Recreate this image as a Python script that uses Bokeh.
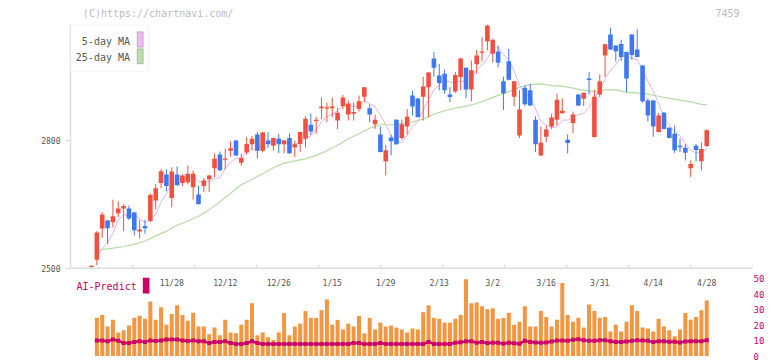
import numpy as np
from bokeh.plotting import figure
from bokeh.layouts import column
from bokeh.models import (Range1d, LinearAxis, FixedTicker, Span, BoxAnnotation,
                          Label, ColumnDataSource)
from bokeh.core.properties import value
from bokeh.embed import file_html
from bokeh.resources import INLINE

# ---------------- data ----------------
opens = [2503, 2520, 2593, 2612, 2608, 2629, 2640, 2640, 2631, 2586,
         2599, 2611, 2659, 2700, 2720, 2665, 2720, 2700, 2702, 2690,
         2673, 2693, 2709, 2735, 2767, 2755, 2776, 2800, 2748, 2772,
         2791, 2814, 2776, 2800, 2788, 2804, 2791, 2806, 2784, 2792,
         2804, 2837, 2846, 2876, 2875, 2876, 2847, 2881, 2861, 2863,
         2874, 2903, 2876, 2838, 2814, 2751, 2807, 2849, 2806, 2833,
         2906, 2899, 2903, 2925, 2993, 2953, 2957, 2908, 2915, 2949,
         2971, 2920, 2979, 3006, 3033, 3004, 3009, 2939, 2986, 2903,
         2812, 2924, 2918, 2849, 2765, 2809, 2833, 2849, 2864, 2802,
         2841, 2908, 2898, 2946, 2808, 2908, 3000, 3049, 3023, 3027,
         3008, 3049, 3014, 2976, 2894, 2894, 2820, 2865, 2830, 2816,
         2788, 2783, 2735, 2788, 2751, 2787]
highs = [2506, 2587, 2632, 2614, 2661, 2657, 2651, 2647, 2632, 2613,
         2614, 2676, 2698, 2733, 2733, 2737, 2739, 2720, 2741, 2729,
         2694, 2712, 2719, 2769, 2774, 2780, 2798, 2801, 2769, 2808,
         2811, 2820, 2820, 2820, 2807, 2815, 2801, 2817, 2800, 2821,
         2857, 2863, 2856, 2901, 2889, 2901, 2877, 2907, 2894, 2889,
         2906, 2926, 2885, 2861, 2833, 2790, 2813, 2850, 2849, 2874,
         2917, 2900, 2950, 2961, 3008, 2980, 2967, 2925, 2961, 2994,
         2972, 2988, 3013, 3043, 3073, 3038, 3023, 2950, 3015, 2940,
         2918, 2929, 2933, 2857, 2833, 2835, 2863, 2910, 2899, 2814,
         2868, 2909, 2913, 2961, 2920, 2955, 3027, 3065, 3024, 3037,
         3009, 3050, 3061, 2977, 2899, 2895, 2865, 2867, 2831, 2835,
         2804, 2792, 2753, 2792, 2796, 2826]
lows = [2501, 2507, 2571, 2557, 2596, 2620, 2587, 2613, 2577, 2570,
        2581, 2608, 2638, 2688, 2681, 2643, 2694, 2693, 2697, 2661,
        2649, 2679, 2679, 2714, 2728, 2733, 2762, 2764, 2741, 2767,
        2778, 2758, 2772, 2783, 2776, 2770, 2770, 2768, 2761, 2773,
        2784, 2813, 2816, 2851, 2843, 2855, 2827, 2874, 2847, 2847,
        2868, 2890, 2843, 2827, 2772, 2718, 2765, 2790, 2802, 2814,
        2859, 2854, 2847, 2855, 2950, 2918, 2910, 2890, 2912, 2918,
        2900, 2892, 2957, 2986, 3012, 2983, 2972, 2872, 2941, 2881,
        2806, 2881, 2881, 2773, 2764, 2796, 2827, 2835, 2863, 2770,
        2817, 2881, 2881, 2908, 2807, 2902, 2949, 3013, 2986, 2987,
        2914, 2990, 2995, 2889, 2845, 2809, 2819, 2826, 2805, 2771,
        2773, 2753, 2714, 2751, 2730, 2785]
closes = [2506, 2584, 2626, 2594, 2622, 2640, 2646, 2617, 2589, 2591,
          2594, 2672, 2688, 2728, 2693, 2727, 2695, 2718, 2722, 2722,
          2651, 2706, 2718, 2757, 2730, 2758, 2782, 2765, 2759, 2792,
          2804, 2776, 2819, 2791, 2806, 2791, 2800, 2770, 2791, 2820,
          2851, 2821, 2849, 2880, 2878, 2880, 2865, 2901, 2887, 2867,
          2892, 2925, 2861, 2849, 2773, 2777, 2798, 2791, 2838, 2856,
          2880, 2855, 2927, 2960, 2971, 2935, 2918, 2902, 2954, 2993,
          2920, 2965, 3000, 3009, 3070, 3037, 2983, 2911, 2943, 2939,
          2873, 2885, 2882, 2791, 2795, 2826, 2854, 2896, 2870, 2794,
          2861, 2882, 2912, 2942, 2903, 2939, 3026, 3014, 3010, 2996,
          2946, 3001, 2996, 2892, 2859, 2833, 2859, 2827, 2806, 2777,
          2784, 2771, 2745, 2778, 2780, 2824]

# 5-day moving average, trading days 1..115
ma5 = [2527, 2545, 2560, 2582, 2613, 2626, 2624, 2623, 2617, 2607,
       2613, 2627, 2655, 2675, 2702, 2706, 2712, 2711, 2717, 2702,
       2704, 2704, 2711, 2712, 2734, 2749, 2758, 2759, 2771, 2780,
       2779, 2790, 2796, 2799, 2797, 2801, 2792, 2792, 2794, 2806,
       2811, 2826, 2844, 2856, 2862, 2870, 2881, 2882, 2880, 2882,
       2894, 2886, 2879, 2860, 2837, 2812, 2798, 2795, 2812, 2833,
       2844, 2871, 2896, 2919, 2930, 2942, 2937, 2936, 2940, 2937,
       2947, 2966, 2977, 2993, 3016, 3020, 3002, 2989, 2963, 2930,
       2910, 2904, 2874, 2845, 2836, 2830, 2832, 2848, 2848, 2855,
       2861, 2864, 2878, 2900, 2916, 2945, 2965, 2978, 2997, 2998,
       2993, 2990, 2966, 2939, 2916, 2888, 2854, 2837, 2820, 2811,
       2793, 2777, 2771, 2772, 2780]

# 25-day moving average, read at these trading days
ma25_day = [1, 4, 6, 8, 10, 12, 14, 16, 18, 20, 22, 24, 26, 28, 30, 32, 34,
            36, 38, 40, 42, 44, 46, 48, 50, 52, 54, 56, 58, 60, 62, 64, 66,
            68, 70, 72, 74, 76, 78, 80, 82, 84, 86, 88, 90, 92, 94, 96, 98,
            100, 102, 104, 106, 108, 110, 112, 114, 115]
ma25 = [2542, 2547, 2551, 2556, 2564, 2576, 2587, 2601, 2611, 2622, 2637,
        2656, 2676, 2696, 2709, 2722, 2736, 2747, 2752, 2757, 2765, 2776,
        2789, 2804, 2816, 2829, 2837, 2837, 2840, 2844, 2850, 2862, 2870,
        2876, 2881, 2887, 2896, 2906, 2915, 2925, 2932, 2933, 2929, 2928,
        2923, 2918, 2915, 2919, 2919, 2913, 2912, 2909, 2904, 2899, 2895,
        2891, 2885, 2884]

# lower panel, trading days 1..115
volume = [24.7, 26.6, 19.1, 23.4, 15.3, 16.6, 19.7, 24.7, 26.0, 24.1,
          35.3, 23.4, 31.6, 20.3, 27.2, 32.8, 26.6, 22.8, 28.0, 19.1,
          19.1, 14.1, 18.4, 13.4, 23.4, 15.3, 14.7, 20.3, 23.4, 34.1,
          13.4, 15.3, 12.2, 10.3, 15.3, 27.8, 13.4, 19.1, 21.0, 29.1,
          24.7, 24.7, 29.7, 36.6, 20.3, 23.4, 17.2, 21.0, 19.1, 25.9,
          14.7, 24.7, 17.2, 21.6, 19.1, 19.7, 18.4, 17.2, 15.3, 17.8,
          17.2, 28.4, 32.8, 24.7, 24.1, 21.6, 21.6, 24.1, 26.6, 49.7,
          34.1, 34.7, 32.2, 30.3, 30.9, 24.1, 24.7, 28.0, 20.3, 22.2,
          32.2, 19.1, 19.1, 29.1, 25.3, 19.1, 23.4, 47.2, 26.6, 22.2,
          24.7, 18.4, 33.4, 29.1, 24.7, 25.3, 15.9, 20.3, 15.9, 22.2,
          32.8, 29.1, 18.4, 17.8, 15.9, 24.1, 19.1, 16.6, 12.8, 17.2,
          27.8, 23.4, 25.3, 29.7, 35.9]
ai_predict = [10.1, 10.1, 9.5, 10.7, 9.9, 8.4, 8.4, 9.1, 9.5, 9.1,
              10.1, 9.7, 10.1, 10.7, 10.7, 10.7, 10.1, 9.7, 10.1, 9.5,
              9.5, 8.4, 9.1, 9.1, 9.5, 8.4, 7.8, 7.8, 8.4, 9.5,
              8.4, 7.8, 7.8, 7.8, 7.8, 7.8, 7.8, 7.8, 7.8, 7.8,
              7.8, 7.8, 7.8, 7.8, 7.8, 7.8, 7.8, 7.8, 8.4, 8.4,
              7.8, 7.8, 7.8, 8.4, 7.8, 7.8, 7.8, 7.8, 7.8, 7.8,
              7.8, 7.8, 9.1, 7.8, 7.8, 7.8, 7.8, 8.6, 8.9, 9.5,
              9.5, 8.6, 9.0, 8.4, 8.6, 8.6, 8.0, 8.6, 8.2, 8.0,
              9.8, 9.0, 8.8, 8.6, 8.8, 9.4, 10.0, 10.0, 9.8, 10.6,
              10.8, 10.2, 9.8, 9.8, 10.2, 10.2, 9.6, 9.0, 9.0, 9.4,
              9.8, 10.2, 10.0, 9.8, 9.0, 9.6, 9.6, 9.2, 9.2, 8.8,
              9.4, 9.6, 9.6, 9.6, 10.2]

date_days = [15, 25, 35, 45, 55, 65, 75, 85, 95, 105, 115]
date_labels = ["11/28", "12/12", "12/26", "1/15", "1/29", "2/13", "3/2",
               "3/16", "3/31", "4/14", "4/28"]
price_ticks = [2500, 2800]
predict_ticks = [0, 10, 20, 30, 40, 50]

# ---------------- layout constants (page pixels) ----------------
PAGE_W = 772
HEAD_H = 20
MAIN_H = 341
FRAME_L, FRAME_R = 70, 752
FRAME_T = 24                     # page y of frame top
FRAME_B = HEAD_H + MAIN_H        # page y of frame bottom
FW = FRAME_R - FRAME_L
FH = FRAME_B - FRAME_T
PX_DAY = 5.35
FIRST_X = 91.0                   # page x of trading day 0
PX_PRICE = 0.4256
BASE_Y = 267.7                   # page y of price 2500
ZERO_Y = 355.5                   # page y of predict 0
TOP50_Y = 278.3                  # page y of predict 50
VOL_PX = (ZERO_Y - TOP50_Y) / 50.0

x_start = (FRAME_L - FIRST_X) / PX_DAY
x_end = x_start + FW / PX_DAY
y_end = 2500 + (BASE_Y - FRAME_T) / PX_PRICE
y_start = y_end - FH / PX_PRICE
v_start = -(FRAME_B - ZERO_Y) / VOL_PX
v_end = v_start + FH / VOL_PX

def fx(px):
    return x_start + (px - FRAME_L) / PX_DAY

def fp(py):
    return y_end - (py - FRAME_T) / PX_PRICE

def fv(py):
    return v_start + (FRAME_B - py) / VOL_PX

MONO = "DejaVu Sans Mono"
RED = "#f0503f"
BLUE = "#3f78ee"

# ---------------- header strip ----------------
head = figure(width=PAGE_W, height=HEAD_H, output_backend="svg",
              toolbar_location=None, title=None,
              x_range=Range1d(0, PAGE_W), y_range=Range1d(HEAD_H, 0),
              x_axis_type=None, y_axis_type=None,
              min_border_left=0, min_border_right=0, min_border_top=0,
              min_border_bottom=0)
head.outline_line_color = None
head.background_fill_color = "white"
head.border_fill_color = "white"
head.text(x=[14], y=[12.5], text=["(C)https://chartnavi.com/"],
          text_align="left", text_baseline="middle", text_font=value(MONO),
          text_font_size=value("10px"), text_color="#bbbbbb")
head.text(x=[757.3], y=[12.5], text=["7459"], text_align="right",
          text_baseline="middle", text_font=value(MONO),
          text_font_size=value("10px"), text_color="#bbbbbb")

# ---------------- main chart ----------------
p = figure(width=PAGE_W, height=MAIN_H, output_backend="svg",
           toolbar_location=None, title=None,
           x_range=Range1d(x_start, x_end), y_range=Range1d(y_start, y_end),
           x_axis_type=None, y_axis_type=None,
           min_border_left=FRAME_L, min_border_right=PAGE_W - FRAME_R,
           min_border_top=FRAME_T - HEAD_H, min_border_bottom=0)
p.outline_line_color = None
p.background_fill_color = "white"
p.border_fill_color = "white"
p.extra_y_ranges = {"vol": Range1d(v_start, v_end)}

yax = LinearAxis(ticker=FixedTicker(ticks=price_ticks), bounds=(2500, y_end),
                 axis_line_color="#dddddd", axis_line_width=1.5,
                 major_tick_line_color="#dddddd", major_tick_line_width=1.5,
                 major_tick_out=5, major_tick_in=0,
                 minor_tick_line_color=None,
                 major_label_text_font=MONO, major_label_text_font_size="8px",
                 major_label_text_color="#555555", major_label_standoff=5)
p.add_layout(yax, "left")

vax = LinearAxis(y_range_name="vol", ticker=FixedTicker(ticks=predict_ticks),
                 bounds=(0, 50), axis_line_color=None,
                 major_tick_line_color=None, major_tick_out=0, major_tick_in=0,
                 minor_tick_line_color=None,
                 major_label_text_font=MONO, major_label_text_font_size="9px",
                 major_label_text_color="#cc0066", major_label_standoff=1)
p.add_layout(vax, "right")

# base line of the price panel with its ticks
p.add_layout(Span(location=2500, dimension="width", line_color="#dddddd",
                  line_width=1.5))
tick_x = np.linspace(x_start, x_end, 12)
p.segment(x0=tick_x, y0=[2500] * 12, x1=tick_x,
          y1=[2500 + 3.5 / PX_PRICE] * 12, line_color="#dddddd", line_width=1.5)

# moving averages
days = list(range(len(closes)))
p.line(days[1:], ma5, line_color="#e6b2ea", line_width=1)
p.line(ma25_day, ma25, line_color="#b4dca4", line_width=1.2)

# candles
colors = [RED if c >= o else BLUE for o, c in zip(opens, closes)]
src = ColumnDataSource(dict(
    day=days, high=highs, low=lows,
    top=[max(o, c) for o, c in zip(opens, closes)],
    bottom=[min(o, c) for o, c in zip(opens, closes)],
    color=colors))
p.segment(x0="day", y0="low", x1="day", y1="high", line_color="color",
          line_width=1, source=src)
p.vbar(x="day", top="top", bottom="bottom", width=0.86, fill_color="color",
       line_color=None, source=src)

# lower panel
vdays = days[1:]
p.vbar(x=vdays, top=volume, bottom=0, width=0.75, fill_color="#f39642",
       line_color=None, y_range_name="vol")
p.line(vdays, ai_predict, line_color="#cc0066", line_width=2.5,
       y_range_name="vol")
p.scatter(vdays, ai_predict, marker="square", size=4, fill_color="#cc0066",
          line_color=None, y_range_name="vol")

p.text(x=date_days, y=[fv(282.5)] * len(date_days), text=date_labels,
       text_align="center", text_baseline="middle",
       text_font=value(MONO), text_font_size=value("8px"),
       text_color="#555555", y_range_name="vol")

p.add_layout(Label(x=fx(76), y=fv(286), text="AI-Predict", text_align="left",
                   text_baseline="middle", text_font=MONO,
                   text_font_size="10px", text_color="#cc0066",
                   y_range_name="vol"))
p.add_layout(BoxAnnotation(left=fx(142.3), right=fx(149), top=fv(277.3),
                           bottom=fv(293), fill_color="#cc0066", fill_alpha=1,
                           line_color=None, y_range_name="vol"))

# legend box
p.add_layout(BoxAnnotation(left=x_start, right=fx(148), top=y_end,
                           bottom=fp(71), fill_color="white", fill_alpha=1,
                           line_color="#dddddd", line_width=1.5))
for name, yc, y0, y1, col in [("5-day MA", 40.7, 31.3, 46.7, "#eebbee"),
                              ("25-day MA", 57.3, 48.3, 63.3, "#bbddaa")]:
    p.add_layout(Label(x=fx(129.5), y=fp(yc), text=name, text_align="right",
                       text_baseline="middle", text_font=MONO,
                       text_font_size="10px", text_color="#555555"))
    p.add_layout(BoxAnnotation(left=fx(136.7), right=fx(142.7), top=fp(y0),
                               bottom=fp(y1), fill_color=col, fill_alpha=1,
                               line_color="#555555", line_width=1))

layout = column(head, p, spacing=0)
open("out.html", "w").write(file_html(layout, INLINE))
